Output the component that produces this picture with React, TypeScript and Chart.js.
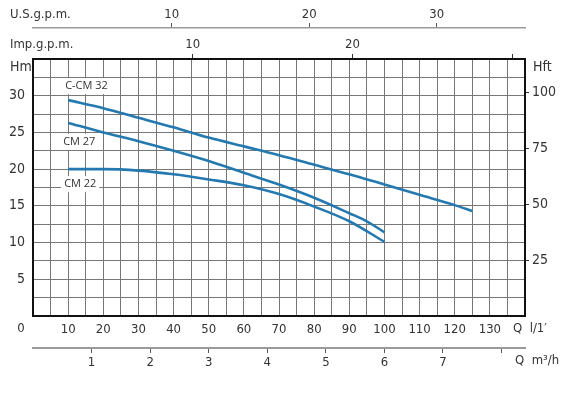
import React, { useEffect, useRef } from "react";
import { Chart, registerables } from "chart.js";

Chart.register(...registerables);

// ---- data (Q in l/min, H in m) ----
const flowCCM32 = [10, 20, 30, 40, 50, 60, 70, 80, 90, 100, 110, 120, 125];
const headCCM32 = [29.4, 28.3, 27.0, 25.7, 24.3, 23.1, 21.9, 20.6, 19.3, 17.9, 16.5, 15.1, 14.3];
const flowCM27 = [10, 20, 30, 40, 50, 60, 70, 80, 90, 95, 100];
const headCM27 = [26.3, 25.0, 23.8, 22.5, 21.1, 19.5, 17.9, 16.1, 14.0, 12.9, 11.4];
const flowCM22 = [10, 20, 30, 40, 50, 60, 70, 80, 90, 100];
const headCM22 = [20.0, 20.0, 19.8, 19.3, 18.6, 17.8, 16.6, 14.9, 12.9, 10.1];
const seriesNames = ["C-CM 32", "CM 27", "CM 22"];

// ---- tick labels ----
const qTickLabels = [10, 20, 30, 40, 50, 60, 70, 80, 90, 100, 110, 120, 130];
const hmTickLabels = [5, 10, 15, 20, 25, 30];
const hftTicks = [25, 50, 75, 100];
const m3hTicks = [1, 2, 3, 4, 5, 6, 7, 8];
const m3hTickLabels = [1, 2, 3, 4, 5, 6, 7];
const impTicks = [10, 20, 30];
const impTickLabels = [10, 20];
const usTickLabels = [10, 20, 30];
const usTickAtLmin = [39.5, 78.6, 114.9];

const Q_MAX = 140; // l/min
const H_MAX = 35; // m

const LINE_COLOR = "#2479b0";
const GRID_COLOR = "#777";
const TEXT_COLOR = "#333";
const AXIS_GRAY = "#9a9a9a";
const NARROW = "'Liberation Sans Narrow', 'DejaVu Sans Condensed', sans-serif";
const tickFont = { family: NARROW, size: 13 };

const labelOffsets = [
  { dx: -3, dy: -14 },
  { dx: -5, dy: 19 },
  { dx: -4, dy: 15 },
];

function pts(xs: number[], ys: number[]) {
  return xs.map((x, i) => ({ x, y: ys[i] }));
}

const textPlugin = {
  id: "extraText",
  beforeDatasetsDraw(chart: any) {
    const ctx = chart.ctx;
    ctx.save();
    ctx.font = "11px 'Open Sans', sans-serif";
    ctx.textBaseline = "middle";
    ctx.textAlign = "left";
    chart.data.datasets.forEach((ds: any, i: number) => {
      const meta = chart.getDatasetMeta(i);
      const p0 = meta.data[0];
      const off = labelOffsets[i];
      const x = p0.x + off.dx;
      const y = p0.y + off.dy;
      const w = ctx.measureText(ds.label).width;
      ctx.fillStyle = "#fff";
      ctx.fillRect(x - 3, y - 8, w + 6, 16);
      ctx.fillStyle = TEXT_COLOR;
      ctx.fillText(ds.label, x, y);
    });
    ctx.restore();
  },
  afterDraw(chart: any) {
    const ctx = chart.ctx;
    const a = chart.chartArea;
    const xs = chart.scales.x;
    ctx.save();
    ctx.fillStyle = TEXT_COLOR;
    ctx.font = `13px ${NARROW}`;
    ctx.textBaseline = "middle";
    ctx.textAlign = "left";
    ctx.fillText("U.S.g.p.m.", 10, 15);
    ctx.fillText("Imp.g.p.m.", 10, 45);
    ctx.font = `14px ${NARROW}`;
    ctx.fillText("Hm", a.left - 23, a.top + 8);
    ctx.fillText("Hft", a.right + 8, a.top + 8);
    ctx.font = `13px ${NARROW}`;
    ctx.textAlign = "center";
    ctx.fillText("0", a.left - 12, a.bottom + 13);
    ctx.textAlign = "left";
    ctx.fillText("Q  l/1\u2032", xs.getPixelForValue(Q_MAX) - 12, a.bottom + 13);
    ctx.fillText("Q  m\u00B3/h", xs.getPixelForValue(Q_MAX) - 10, a.bottom + 45);
    ctx.restore();
  },
};

export default function App() {
  const ref = useRef<HTMLCanvasElement>(null);
  useEffect(() => {
    if (!ref.current) return;
    const edgeHide = (max: number, color: string) => (c: any) =>
      c.tick && (c.tick.value === 0 || Math.abs(c.tick.value - max) < 1e-6) ? "rgba(0,0,0,0)" : color;

    const chart = new Chart(ref.current, {
      type: "line",
      data: {
        datasets: [
          { label: seriesNames[0], data: pts(flowCCM32, headCCM32) },
          { label: seriesNames[1], data: pts(flowCM27, headCM27) },
          { label: seriesNames[2], data: pts(flowCM22, headCM22) },
        ].map((d) => ({
          ...d,
          borderColor: LINE_COLOR,
          backgroundColor: LINE_COLOR,
          borderWidth: 2.6,
          pointRadius: 0,
          fill: false,
          cubicInterpolationMode: "monotone" as const,
          xAxisID: "x",
          yAxisID: "y",
        })),
      },
      options: {
        animation: false,
        responsive: false,
        devicePixelRatio: 1,
        layout: { padding: 0 },
        plugins: { legend: { display: false }, tooltip: { enabled: false }, title: { display: false } },
        events: [],
        scales: {
          x: {
            type: "linear",
            position: "bottom",
            weight: 0,
            min: 0,
            max: Q_MAX,
            afterFit: (s: any) => { s.height = 32; },
            ticks: {
              stepSize: 5,
              autoSkip: false,
              maxRotation: 0,
              padding: 6,
              color: TEXT_COLOR,
              font: tickFont,
              callback: (v: any) => (qTickLabels.includes(Number(v)) ? String(v) : ""),
            },
            grid: { color: edgeHide(Q_MAX, GRID_COLOR), lineWidth: 1, drawTicks: false },
            border: { display: true, color: "#111", width: 2 },
          },
          xm3: {
            type: "linear",
            position: "bottom",
            weight: 1,
            min: 0,
            max: (Q_MAX * 60) / 1000,
            afterFit: (s: any) => { s.height = 49; },
            afterBuildTicks: (s: any) => { s.ticks = m3hTicks.map((v) => ({ value: v })); },
            ticks: {
              autoSkip: false,
              maxRotation: 0,
              padding: 2,
              color: TEXT_COLOR,
              font: tickFont,
              callback: (v: any) => (m3hTickLabels.includes(Number(v)) ? String(v) : ""),
            },
            grid: { drawOnChartArea: false, drawTicks: true, tickLength: 5, tickColor: "#555", tickWidth: 1 },
            border: { display: true, color: AXIS_GRAY, width: 2 },
          },
          ximp: {
            type: "linear",
            position: "top",
            weight: 0,
            min: 0,
            max: Q_MAX / 4.546,
            afterFit: (s: any) => { s.height = 31; },
            afterBuildTicks: (s: any) => { s.ticks = impTicks.map((v) => ({ value: v })); },
            ticks: {
              autoSkip: false,
              maxRotation: 0,
              padding: 2,
              color: TEXT_COLOR,
              font: tickFont,
              callback: (v: any) => (impTickLabels.includes(Number(v)) ? String(v) : ""),
            },
            grid: { drawOnChartArea: false, drawTicks: true, tickLength: 5, tickColor: "#333", tickWidth: 1 },
            border: { display: true, color: "#111", width: 2 },
          },
          xus: {
            type: "linear",
            position: "top",
            weight: 1,
            min: 0,
            max: Q_MAX,
            afterFit: (s: any) => { s.height = 28; },
            afterBuildTicks: (s: any) => { s.ticks = usTickAtLmin.map((v) => ({ value: v })); },
            ticks: {
              autoSkip: false,
              maxRotation: 0,
              padding: 1,
              color: TEXT_COLOR,
              font: tickFont,
              callback: (_v: any, i: number) => String(usTickLabels[i]),
            },
            grid: { drawOnChartArea: false, drawTicks: true, tickLength: 5, tickColor: "#555", tickWidth: 1 },
            border: { display: true, color: AXIS_GRAY, width: 1.5 },
          },
          y: {
            type: "linear",
            position: "left",
            min: 0,
            max: H_MAX,
            afterFit: (s: any) => { s.width = 33; },
            ticks: {
              stepSize: 2.5,
              autoSkip: false,
              padding: 8,
              color: TEXT_COLOR,
              font: { family: NARROW, size: 14 },
              callback: (v: any) => (hmTickLabels.includes(Number(v)) ? String(v) : ""),
            },
            grid: { color: edgeHide(H_MAX, GRID_COLOR), lineWidth: 1, drawTicks: false },
            border: { display: true, color: "#111", width: 2 },
          },
          yft: {
            type: "linear",
            position: "right",
            min: 0,
            max: H_MAX / 0.3048,
            afterFit: (s: any) => { s.width = 44; },
            afterBuildTicks: (s: any) => { s.ticks = hftTicks.map((v) => ({ value: v })); },
            ticks: {
              autoSkip: false,
              padding: 3,
              color: TEXT_COLOR,
              font: { family: NARROW, size: 14 },
              callback: (v: any) => String(v),
            },
            grid: { drawOnChartArea: false, drawTicks: true, tickLength: 4, tickColor: "#333", tickWidth: 1 },
            border: { display: true, color: "#111", width: 2 },
          },
        },
      } as any,
      plugins: [textPlugin],
    });
    return () => chart.destroy();
  }, []);

  return (
    <div style={{ position: "fixed", left: 0, top: 0, width: 569, height: 397, background: "#fff" }}>
      <canvas ref={ref} width={569} height={397} style={{ width: 569, height: 397, display: "block" }} />
    </div>
  );
}
